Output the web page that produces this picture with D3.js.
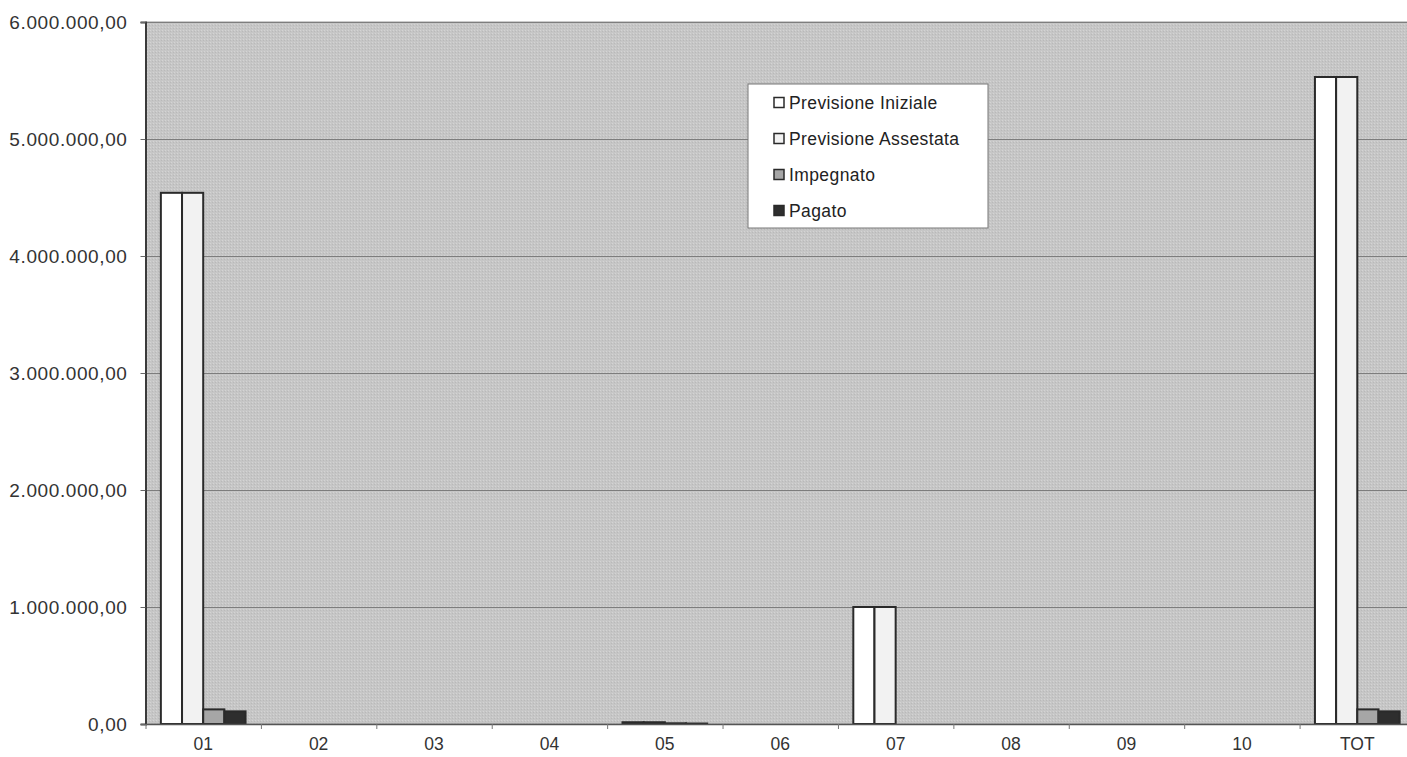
<!DOCTYPE html>
<html>
<head>
<meta charset="utf-8">
<script src="https://cdn.jsdelivr.net/npm/d3@7"></script>
<style>
  body { margin: 0; background: #fff; overflow: hidden; }
  text { font-family: "Liberation Sans", Arial, sans-serif; }
</style>
</head>
<body>
<div id="chart"></div>
<script>
// categories and series
const categories = ["01", "02", "03", "04", "05", "06", "07", "08", "09", "10", "TOT"];
const seriesNames = ["Previsione Iniziale", "Previsione Assestata", "Impegnato", "Pagato"];
const previsioneIniziale = [4540000, 0, 0, 0, 15000, 0, 1000000, 0, 0, 0, 5530000];
const previsioneAssestata = [4540000, 0, 0, 0, 15000, 0, 1000000, 0, 0, 0, 5530000];
const impegnato = [125000, 0, 0, 0, 6000, 0, 0, 0, 0, 0, 125000];
const pagato = [108000, 0, 0, 0, 4000, 0, 0, 0, 0, 0, 108000];
const yTicks = [0, 1000000, 2000000, 3000000, 4000000, 5000000, 6000000];

const width = 1407, height = 757;
// plot area runs a little past the right edge of the picture, as in the scan
const plotLeft = 145.5, plotRight = 1415, plotTop = 22, plotBottom = 724;
const colors = ["#ffffff", "#f2f2f2", "#a6a6a6", "#2e2e2e"];

const allSeries = [previsioneIniziale, previsioneAssestata, impegnato, pagato];
const data = categories.map((c, i) => ({
  cat: c,
  values: allSeries.map((s, k) => ({key: k, value: s[i]}))
}));

const svg = d3.select("#chart").append("svg")
  .attr("width", width)
  .attr("height", height);

// dithered grey background like the scanned chart
const defs = svg.append("defs");
const pat = defs.append("pattern")
  .attr("id", "dither")
  .attr("width", 3).attr("height", 3)
  .attr("patternUnits", "userSpaceOnUse");
pat.append("rect").attr("width", 3).attr("height", 3).attr("fill", "#c6c6c6");
pat.append("rect").attr("x", 0).attr("y", 0).attr("width", 1).attr("height", 1).attr("fill", "#d4d4d4");
pat.append("rect").attr("x", 2).attr("y", 1).attr("width", 1).attr("height", 1).attr("fill", "#b9b9b9");

const x0 = d3.scaleBand()
  .domain(categories)
  .range([plotLeft, plotRight])
  .paddingInner(0)
  .paddingOuter(0);

// Excel-style gap: 4 bars + ~1.5 bar width of gap per category
const barW = x0.bandwidth() / 5.45;
const x1 = d3.scaleBand()
  .domain(d3.range(seriesNames.length))
  .range([0, barW * 4]);
const groupOffset = (x0.bandwidth() - barW * 4) / 2;

const y = d3.scaleLinear()
  .domain([0, 6000000])
  .range([plotBottom, plotTop]);

const fmt = v => d3.format(",.2f")(v).replace(/,/g, "#").replace(/\./g, ",").replace(/#/g, ".");

// plot area
svg.append("rect")
  .attr("x", plotLeft)
  .attr("y", plotTop)
  .attr("width", plotRight - plotLeft)
  .attr("height", plotBottom - plotTop)
  .attr("fill", "url(#dither)")
  .attr("stroke", "#9a9a9a")
  .attr("stroke-width", 1);

// gridlines
svg.append("g")
  .selectAll("line")
  .data(yTicks.slice(1))
  .join("line")
  .attr("x1", plotLeft)
  .attr("x2", plotRight)
  .attr("y1", d => Math.round(y(d)) + 0.5)
  .attr("y2", d => Math.round(y(d)) + 0.5)
  .attr("stroke", "#7d7d7d")
  .attr("stroke-width", 1);

// bars
const groups = svg.append("g")
  .selectAll("g")
  .data(data)
  .join("g")
  .attr("transform", d => `translate(${x0(d.cat) + groupOffset},0)`);

groups.selectAll("rect")
  .data(d => d.values.filter(v => v.value > 0))
  .join("rect")
  .attr("x", d => x1(d.key))
  .attr("y", d => y(d.value))
  .attr("width", x1.bandwidth())
  .attr("height", d => y(0) - y(d.value))
  .attr("fill", d => colors[d.key])
  .attr("stroke", "#2a2a2a")
  .attr("stroke-width", 2);

// y axis
const yAxis = svg.append("g")
  .attr("transform", `translate(${plotLeft},0)`)
  .call(d3.axisLeft(y).tickValues(yTicks).tickFormat(fmt).tickSize(5).tickPadding(13));
yAxis.select(".domain").attr("stroke", "#3a3a3a").attr("stroke-width", 2);
yAxis.selectAll(".tick line").attr("stroke", "#666");
yAxis.selectAll("text")
  .attr("font-size", 19)
  .attr("letter-spacing", 0.6)
  .attr("fill", "#333");

// x axis with ticks at category boundaries
const xAxis = svg.append("g")
  .attr("transform", `translate(0,${plotBottom})`)
  .call(d3.axisBottom(x0).tickSize(0).tickPadding(14));
xAxis.select(".domain").attr("stroke", "#555").attr("stroke-width", 1.5);
xAxis.selectAll("text")
  .attr("font-size", 17.5)
  .attr("fill", "#333");
xAxis.append("g")
  .selectAll("line")
  .data(categories)
  .join("line")
  .attr("x1", d => x0(d) + 0.5)
  .attr("x2", d => x0(d) + 0.5)
  .attr("y1", 0)
  .attr("y2", 5)
  .attr("stroke", "#777");

// legend
const legend = svg.append("g").attr("transform", "translate(748,84)");
legend.append("rect")
  .attr("width", 240)
  .attr("height", 144)
  .attr("fill", "#ffffff")
  .attr("stroke", "#777")
  .attr("stroke-width", 1);
const rowY = [19, 55, 91, 127];
const items = legend.selectAll("g.item")
  .data(seriesNames)
  .join("g")
  .attr("class", "item")
  .attr("transform", (d, i) => `translate(26,${rowY[i]})`);
items.append("rect")
  .attr("x", 0).attr("y", -5.5)
  .attr("width", 10).attr("height", 10)
  .attr("fill", (d, i) => colors[i])
  .attr("stroke", "#2a2a2a")
  .attr("stroke-width", 1.5);
items.append("text")
  .attr("x", 15)
  .attr("dy", "0.35em")
  .attr("font-size", 17.5)
  .attr("letter-spacing", 0.4)
  .attr("fill", "#222")
  .text(d => d);
</script>
</body>
</html>
